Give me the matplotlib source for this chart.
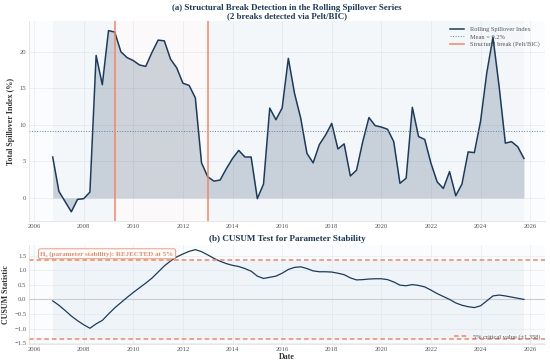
import numpy as np
import matplotlib
matplotlib.use("Agg")
import matplotlib.pyplot as plt

plt.rcParams['font.family'] = ['Liberation Serif', 'DejaVu Serif']

# quarterly dates as decimal years, 2006Q3 .. 2025Q3
dates = 2006.75 + 0.25 * np.arange(77)

spillover = [
    5.6, 0.9, -0.5, -1.9, -0.2, -0.1, 0.8, 19.5, 15.5, 22.9,
    22.7, 20.0, 19.2, 18.8, 18.2, 18.0, 19.9, 21.6, 21.5, 19.0,
    17.8, 15.7, 15.4, 13.7, 4.8, 2.9, 2.3, 2.45, 4.0, 5.4,
    6.5, 5.6, 5.6, -0.1, 1.9, 12.3, 10.7, 12.3, 19.1, 14.3,
    10.9, 6.1, 4.8, 7.3, 8.6, 10.2, 6.7, 7.4, 3.0, 3.8,
    7.7, 11.0, 9.9, 9.7, 9.4, 7.7, 2.0, 2.7, 12.4, 8.4,
    8.0, 4.75, 2.2, 1.3, 3.6, 0.3, 1.9, 6.3, 6.2, 10.5,
    17.1, 22.0, 15.2, 7.5, 7.7, 7.0, 5.4,
]

cusum = [
    -0.05, -0.2, -0.38, -0.57, -0.73, -0.87, -0.99, -0.84, -0.72, -0.5,
    -0.29, -0.11, 0.07, 0.24, 0.4, 0.56, 0.73, 0.94, 1.15, 1.32,
    1.46, 1.56, 1.65, 1.71, 1.64, 1.53, 1.41, 1.31, 1.23, 1.17,
    1.13, 1.06, 0.97, 0.8, 0.72, 0.76, 0.8, 0.9, 1.03, 1.1,
    1.12, 1.06, 0.98, 0.95, 0.95, 0.94, 0.9, 0.85, 0.74, 0.67,
    0.68, 0.70, 0.71, 0.71, 0.68, 0.6, 0.49, 0.47, 0.51, 0.48,
    0.43, 0.32, 0.2, 0.1, 0.0, -0.12, -0.2, -0.25, -0.28, -0.22,
    -0.05, 0.12, 0.15, 0.12, 0.08, 0.04, 0.0,
]

breaks = [2009.25, 2013.0]
mean_value = 9.2
crit = 1.358

NAVY = '#1b3b5e'
SALMON = '#f7845f'
TICK = '#555555'

fig = plt.figure(figsize=(5.5, 3.64), dpi=100)
ax1 = fig.add_axes([0.053, 0.393, 0.938, 0.549])
ax2 = fig.add_axes([0.053, 0.055, 0.938, 0.272])

for ax in (ax1, ax2):
    ax.set_facecolor('#fbfcfd')
    ax.grid(True, color='#e6eaf0', lw=0.5)
    ax.set_axisbelow(True)
    for s in ax.spines.values():
        s.set_color('#dddddd')
        s.set_linewidth(0.5)
    ax.spines['top'].set_visible(False)
    ax.spines['right'].set_visible(False)
    ax.tick_params(labelsize=4.8, colors=TICK, length=0, pad=2)
    ax.set_xlim(2005.8, 2026.6)
    ax.set_xticks(np.arange(2006, 2027, 2))

# --- panel (a)
edges = [dates[0]] + breaks + [dates[-1]]
for i in range(len(edges) - 1):
    c, a = ('#5b8bc0', 0.04) if i % 2 == 0 else ('#ff8c5a', 0.02)
    ax1.axvspan(edges[i], edges[i + 1], color=c, alpha=a, lw=0)

ax1.fill_between(dates, spillover, 0, color=NAVY, alpha=0.2, lw=0)
ax1.plot(dates, spillover, color=NAVY, lw=1.1, label='Rolling Spillover Index')
ax1.axhline(mean_value, color='#5a82ad', lw=0.7, ls=':', label=f'Mean = {mean_value:.1f}%')
for j, b in enumerate(breaks):
    ax1.axvline(b, color=SALMON, lw=1.2, alpha=0.9,
                label='Structural break (Pelt/BIC)' if j == 0 else None)
ax1.set_ylim(-3.15, 24.2)
ax1.set_yticks([0, 5, 10, 15, 20])
ax1.set_ylabel('Total Spillover Index (%)', fontsize=5.8, fontweight='bold', color='#333333', labelpad=3)
ax1.set_title('(a) Structural Break Detection in the Rolling Spillover Series\n(2 breaks detected via Pelt/BIC)',
              fontsize=6.4, fontweight='bold', color=NAVY, pad=2, linespacing=1.1)
ax1.legend(loc='upper right', frameon=False, fontsize=4.6, labelcolor='#555555',
           handlelength=2.2, borderaxespad=0.5, labelspacing=0.3)

# --- panel (b)
ax2.fill_between(dates, -crit, crit, color='#d7e6f0', alpha=0.35, lw=0)
ax2.axhline(0, color='#cccccc', lw=0.8)
ax2.plot(dates, cusum, color=NAVY, lw=0.9)
ax2.axhline(crit, color=SALMON, lw=1.1, ls='--', dashes=(3, 2), label=f'5% critical value (±{crit})')
ax2.axhline(-crit, color=SALMON, lw=1.1, ls='--', dashes=(3, 2))
ax2.set_ylim(-1.53, 1.87)
ax2.set_yticks([-1.5, -1.0, -0.5, 0.0, 0.5, 1.0, 1.5])
ax2.set_ylabel('CUSUM Statistic', fontsize=5.8, fontweight='bold', color='#333333', labelpad=3)
ax2.set_xlabel('Date', fontsize=5.8, fontweight='bold', color='#333333', labelpad=1)
ax2.set_title('(b) CUSUM Test for Parameter Stability', fontsize=6.6, fontweight='bold', color=NAVY, pad=3)
ax2.text(0.022, 0.94, 'H₀ (parameter stability): REJECTED at 5%', transform=ax2.transAxes,
         fontsize=5.0, fontweight='bold', color=SALMON, va='top', ha='left',
         bbox=dict(boxstyle='round,pad=0.3', fc='white', ec=SALMON, lw=0.6))
ax2.legend(loc='lower right', frameon=False, fontsize=4.6, labelcolor='#555555',
           handlelength=2.2, borderaxespad=0.3)

fig.savefig('out.png', dpi=100)
